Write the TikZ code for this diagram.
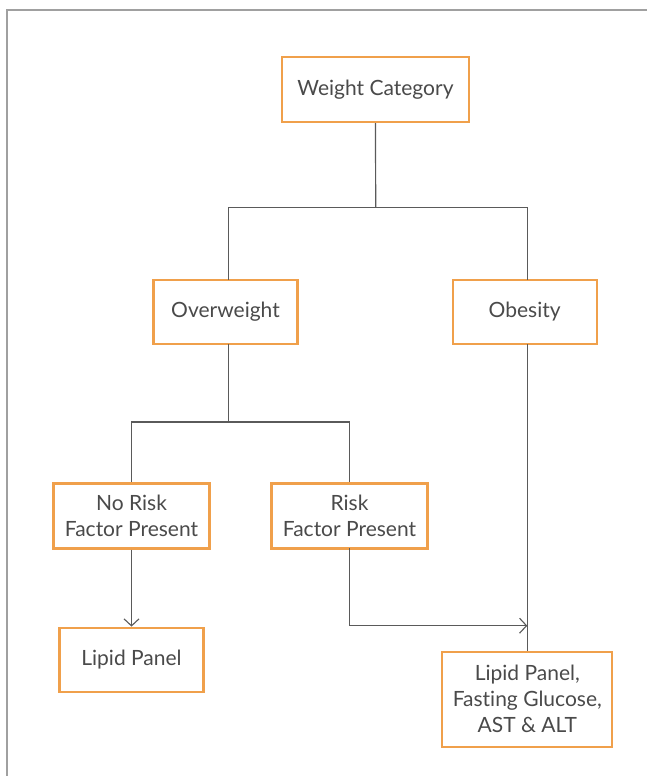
\documentclass[tikz,border=0pt]{standalone}
\usepackage{fontspec}
\setmainfont{Lato}[Ligatures=NoCommon]
\usetikzlibrary{arrows.meta}
\definecolor{boxorange}{HTML}{F0A04B}
\definecolor{txtgray}{HTML}{4A4A4A}
\definecolor{linegray}{HTML}{5A5A5A}
\definecolor{framegray}{HTML}{A0A0A0}
\tikzset{
  box/.style={draw=boxorange, line width=2.3pt, fill=white, inner sep=0pt,
    text=txtgray, align=center, font=\fontsize{21}{26}\selectfont},
  conn/.style={draw=linegray, line width=1.2pt},
  arr/.style={conn, -{Straight Barb[length=7pt,width=15pt,line width=1.1pt]}},
}
\begin{document}
\begin{tikzpicture}[x=1pt,y=-1pt]
\useasboundingbox (0,0) rectangle (647,776);
\fill[white] (0,0) rectangle (647,776);
\draw[framegray, line width=1.4pt] (7,776) -- (7,10) -- (647,10);

\node[box, minimum width=187pt, minimum height=65pt] (wc) at (375.5,89.5) {Weight Category};
\node[box, minimum width=144pt, minimum height=64pt] (ow) at (225.5,312) {Overweight};
\node[box, minimum width=144pt, minimum height=64pt] (ob) at (524.7,312) {Obesity};
\node[box, minimum width=156pt, minimum height=65pt] (nr) at (131.5,516) {No Risk\\Factor Present};
\node[box, minimum width=156pt, minimum height=65pt] (rf) at (349.5,516) {Risk\\Factor Present};
\node[box, minimum width=144pt, minimum height=64.5pt] (lp) at (131.5,660) {Lipid Panel};
\node[box, minimum width=170pt, minimum height=95pt] (lp2) at (527.3,699.2) {Lipid Panel,\\Fasting Glucose,\\AST \& ALT};

\coordinate (j1) at (375.7,207.7);
\coordinate (owt) at (228.5,280);
\coordinate (obt) at (527.3,280);
\coordinate (owb) at (228.5,344);
\coordinate (obb) at (527.3,344);
\coordinate (j2) at (228.5,422);
\coordinate (rfb) at (349.5,548);
\coordinate (j3) at (349.5,625.7);
\coordinate (j4) at (527.3,625.7);

\draw[conn] (wc.south) -- (j1);
\draw[conn] (j1) -| (owt);
\draw[conn] (j1) -| (obt);
\draw[conn] (owb) -- (j2);
\draw[conn] (j2) -| (nr.north);
\draw[conn] (j2) -| (rf.north);
\draw[arr] (nr.south) -- (lp.north);
\draw[conn] (obb) -- (lp2.north);
\draw[arr] (rfb) -- (j3) -- (j4);
\end{tikzpicture}
\end{document}
